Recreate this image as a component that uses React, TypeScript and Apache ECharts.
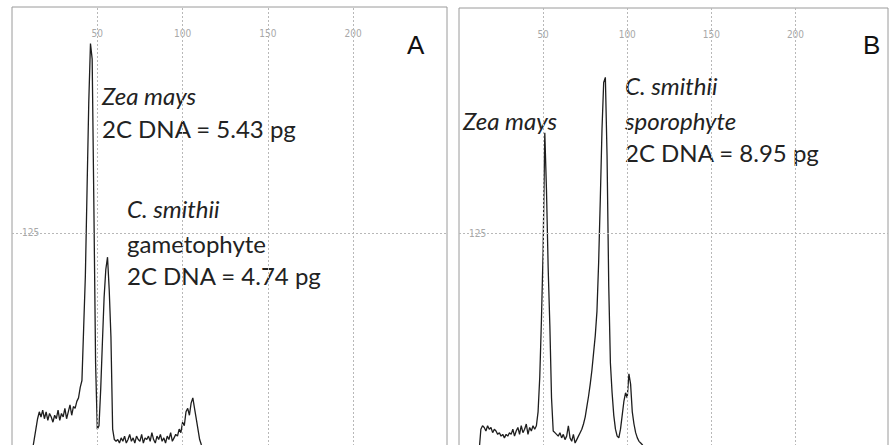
import React, { useEffect, useRef } from "react";
import * as echarts from "echarts";

// Flow-cytometry histograms: channel (relative fluorescence) vs. counts
const channelsA = [12,13,14,15,16,17,18,19,20,21,22,23,24,25,26,27,28,29,30,31,32,33,34,35,36,37,38,39,40,41,42,43,44,45,46,47,48,49,50,51,52,53,54,55,56,57,58,59,60,61,62,63,64,65,66,67,68,69,70,71,72,73,74,75,76,77,78,79,80,81,82,83,84,85,86,87,88,89,90,91,92,93,94,95,96,97,98,99,100,101,102,103,104,105,106,107,108,109,110,111,112,113,255];
const countsA = [0,6,12,18,22,19,23,18,22,17,21,19,16,20,18,23,17,21,19,24,18,22,26,20,25,24,28,30,36,40,70,100,150,200,234,225,140,50,12,14,35,62,88,104,111,92,65,12,6,5,6,4,7,5,8,4,6,9,5,7,4,8,6,5,9,4,7,6,8,5,10,6,4,8,6,9,5,7,4,8,6,10,5,7,9,8,12,10,16,14,22,24,20,27,30,24,18,12,6,3,1,0,0];

const channelsB = [12,13,14,15,16,17,18,19,20,21,22,23,24,25,26,27,28,29,30,31,32,33,34,35,36,37,38,39,40,41,42,43,44,45,46,47,48,49,50,51,52,53,54,55,56,57,58,59,60,61,62,63,64,65,66,67,68,69,70,71,72,73,74,75,76,77,78,79,80,81,82,83,84,85,86,87,88,89,90,91,92,93,94,95,96,97,98,99,100,101,102,103,104,105,106,107,108,109,110,111,255];
const countsB = [0,12,14,13,11,14,12,13,10,12,11,9,10,8,9,7,9,8,10,9,12,8,11,13,9,14,10,12,15,9,13,11,14,12,14,22,42,75,115,183,150,105,72,30,11,10,9,8,10,7,9,6,8,14,7,5,9,4,6,8,10,12,15,19,25,31,38,46,56,66,80,108,145,185,212,215,170,95,50,33,20,12,8,7,12,20,28,33,30,44,38,22,15,10,7,5,4,3,1,0,0];

const xTickLabels = [50, 100, 150, 200];
const yTickLabels = [125];

const pairs = (xs: number[], ys: number[]) => xs.map((x, i) => [x, ys[i]]);

export default function App() {
  const ref = useRef<HTMLDivElement>(null);
  useEffect(() => {
    if (!ref.current) return;
    const chart = echarts.init(ref.current, undefined, { renderer: "svg" });
    const gridLine = { color: "#b8b8b8", type: [2, 2] as any, width: 1 };
    const markData = [
      ...xTickLabels.map((v) => ({ xAxis: v })),
      ...yTickLabels.map((v) => ({ yAxis: v })),
    ];
    const xAxisCommon = (gridIndex: number) => ({
      type: "value" as const,
      gridIndex,
      position: "top" as const,
      min: 0,
      max: 255,
      interval: 50,
      axisLine: { show: false },
      axisTick: { show: false },
      splitLine: { show: false },
      axisLabel: {
        inside: true,
        margin: 21,
        color: "#a8a8a8",
        fontSize: 10,
        fontFamily: "DejaVu Sans Condensed, sans-serif",
        formatter: (v: number) => (xTickLabels.includes(v) ? String(v) : ""),
      },
    });
    const yAxisCommon = (gridIndex: number) => ({
      type: "value" as const,
      gridIndex,
      min: 0,
      max: 255,
      interval: 125,
      axisLine: { show: false },
      axisTick: { show: false },
      splitLine: { show: false },
      axisLabel: {
        inside: true,
        margin: 10,
        color: "#a8a8a8",
        fontSize: 10,
        fontFamily: "DejaVu Sans Condensed, sans-serif",
        formatter: (v: number) => (yTickLabels.includes(v) ? String(v) : ""),
      },
    });
    const seriesCommon = {
      type: "line" as const,
      showSymbol: false,
      lineStyle: { color: "#1e1e1e", width: 1.3 },
      markLine: {
        silent: true,
        symbol: ["none", "none"],
        label: { show: false },
        lineStyle: gridLine,
        data: markData,
      },
    };
    const txt = (text: string, x: number, y: number, italic = false, size = 24) => ({
      type: "text" as const,
      x,
      y,
      style: {
        text,
        fill: "#222",
        font: `${italic ? "italic " : ""}${size}px Lato, sans-serif`,
        verticalAlign: "middle",
        align: "left",
      },
    });
    const letter = (text: string, x: number, y: number) => ({
      type: "text" as const,
      x,
      y,
      style: {
        text,
        fill: "#111",
        font: "26px 'Liberation Sans', Arial, sans-serif",
        verticalAlign: "middle",
        align: "left",
      },
    });
    chart.setOption({
      animation: false,
      backgroundColor: "#ffffff",
      grid: [
        { left: 12, top: 7, width: 435, height: 443, show: true, borderColor: "#9a9a9a", borderWidth: 1, backgroundColor: "transparent" },
        { left: 459, top: 8, width: 430, height: 442, show: true, borderColor: "#9a9a9a", borderWidth: 1, backgroundColor: "transparent" },
      ],
      xAxis: [xAxisCommon(0), xAxisCommon(1)],
      yAxis: [yAxisCommon(0), yAxisCommon(1)],
      series: [
        { ...seriesCommon, name: "A", xAxisIndex: 0, yAxisIndex: 0, data: pairs(channelsA, countsA) },
        { ...seriesCommon, name: "B", xAxisIndex: 1, yAxisIndex: 1, data: pairs(channelsB, countsB) },
      ],
      graphic: [
        txt("Zea mays", 102, 95, true),
        txt("2C DNA = 5.43 pg", 102, 128),
        txt("C. smithii", 127, 208, true),
        txt("gametophyte", 127, 243),
        txt("2C DNA = 4.74 pg", 127, 275),
        letter("A", 407, 45),
        txt("Zea mays", 463, 120, true),
        txt("C. smithii", 625, 85, true),
        txt("sporophyte", 625, 120, true),
        txt("2C DNA = 8.95 pg", 625, 152),
        letter("B", 863, 45),
      ],
    });
    return () => chart.dispose();
  }, []);
  return (
    <div
      ref={ref}
      style={{ position: "absolute", left: 0, top: 0, width: 891, height: 460, background: "#fff" }}
    />
  );
}
